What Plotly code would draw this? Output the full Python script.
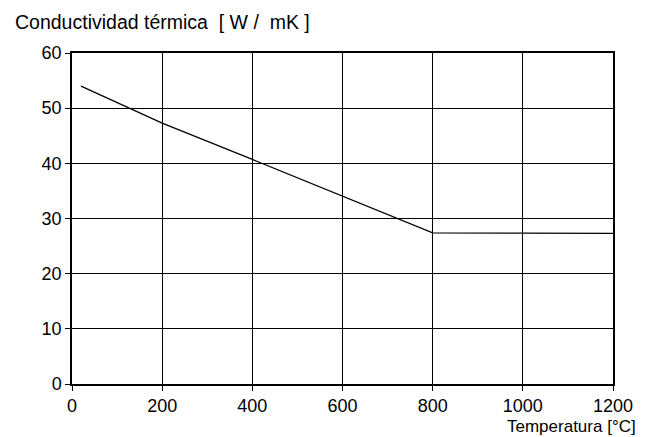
import plotly.graph_objects as go

temperatura = [20, 200, 400, 600, 800, 1000, 1200]
conductividad = [54.0, 47.3, 40.7, 34.0, 27.4, 27.35, 27.3]

x_ticks = [0, 200, 400, 600, 800, 1000, 1200]
y_ticks = [0, 10, 20, 30, 40, 50, 60]

title_text = "Conductividad térmica  [ W /  mK ]"
xlabel_text = "Temperatura [°C]"

FONT = "Liberation Sans, Arial, sans-serif"

fig = go.Figure()
fig.add_trace(go.Scatter(
    x=temperatura, y=conductividad, mode="lines",
    line=dict(color="black", width=1.3), showlegend=False, hoverinfo="skip"
))

axis_common = dict(
    showline=True, linecolor="black", linewidth=1.5, mirror=True,
    showgrid=True, gridcolor="black", gridwidth=1.1,
    ticks="outside", ticklen=5, tickcolor="black", tickwidth=1.2,
    zeroline=False,
    tickfont=dict(family=FONT, size=18, color="black"),
)

fig.update_xaxes(range=[0, 1200], tickvals=x_ticks, ticktext=[str(v) for v in x_ticks], **axis_common)
fig.update_yaxes(range=[0, 60], tickvals=y_ticks, ticktext=[str(v) for v in y_ticks], **axis_common)

# page body has an 8px default margin: figure sized so it ends at the window edge
fig.update_layout(
    width=637, height=429,
    margin=dict(l=64, r=29, t=45, b=53),
    paper_bgcolor="white", plot_bgcolor="white",
    font=dict(family=FONT, color="black"),
    annotations=[
        dict(text=title_text, xref="paper", yref="paper",
             x=-59/544, y=1 + 31/331, xanchor="left", yanchor="middle",
             showarrow=False, font=dict(family=FONT, size=19.5, color="black")),
        dict(text=xlabel_text, xref="paper", yref="paper",
             x=1 + 25/544, y=-42/331, xanchor="right", yanchor="middle",
             showarrow=False, font=dict(family=FONT, size=17, color="black")),
    ],
)

fig.write_html("out.html")
